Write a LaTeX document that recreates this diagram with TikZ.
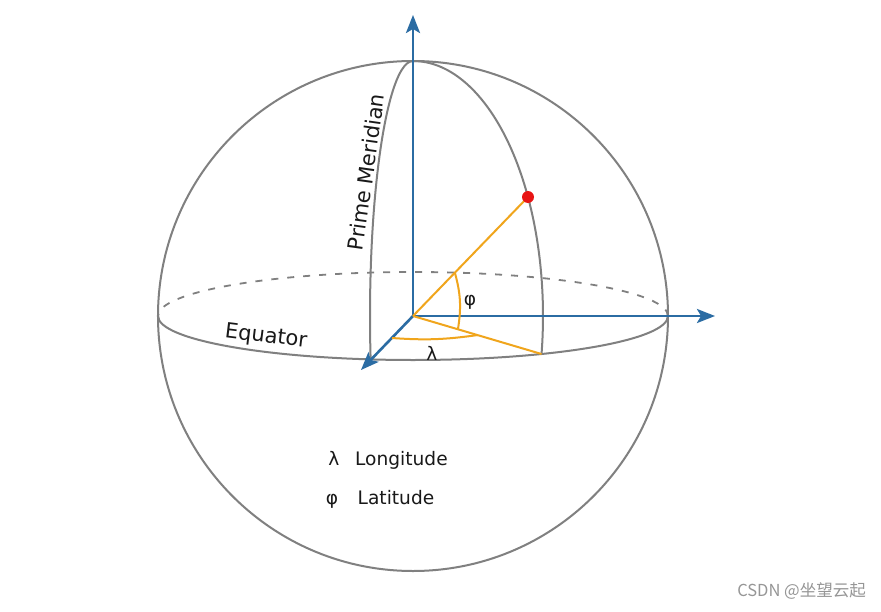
\documentclass[tikz,border=0pt]{standalone}
\usepackage{fontspec}
\setmainfont{DejaVu Sans}
\newfontfamily\cjkfont{Noto Sans CJK SC}
\usetikzlibrary{arrows.meta}
\definecolor{axisblue}{RGB}{43,108,163}
\definecolor{angorange}{RGB}{240,165,28}
\definecolor{spheregray}{RGB}{128,128,128}
\definecolor{dotred}{RGB}{232,20,20}
\definecolor{wmgray}{RGB}{150,150,150}
\begin{document}
\begin{tikzpicture}[x=1pt,y=1pt,
  sphereline/.style={draw=spheregray, line width=2pt},
  backline/.style={draw=spheregray, line width=1.8pt, dash pattern=on 7pt off 9pt},
  axisline/.style={draw=axisblue, line width=2.6pt, -{Stealth[length=18pt,width=14pt,inset=4pt]}},
  angline/.style={draw=angorange, line width=2pt},
  bigtxt/.style={font=\fontsize{21}{25}\selectfont, text=black!90, inner sep=0pt},
  legtxt/.style={font=\fontsize{18.6}{22}\selectfont, text=black!90, inner sep=0pt},
  wmtxt/.style={font=\cjkfont\fontsize{16.5}{18}\selectfont, text=wmgray, inner sep=0pt}]
\useasboundingbox (-413,-295) rectangle (468,316);
\fill[white] (-413,-295) rectangle (468,316);
% key points
\coordinate (O) at (0,0);
\coordinate (N) at (0,301);
\coordinate (Xe) at (302,0);
\coordinate (Ye) at (-52,-54);
\coordinate (P) at (115,119);
\coordinate (E) at (128.5,-38);
\coordinate (phiA) at (42,43);
\coordinate (phiB) at (45,-13);
\coordinate (lamA) at (-21,-22);
\coordinate (lamB) at (65,-19);
% sphere
\draw[sphereline] (O) circle[radius=255];
\draw[backline] (255,0) arc[start angle=0,end angle=180,x radius=255,y radius=44];
\draw[sphereline] (-255,0) arc[start angle=180,end angle=360,x radius=255,y radius=44];
\draw[sphereline] (0,255) arc[start angle=90,end angle=189.7,x radius=43,y radius=255];
\draw[sphereline] (0,255) arc[start angle=90,end angle=-8.57,x radius=130,y radius=255];
% axes
\draw[axisline] (O) -- (N);
\draw[axisline] (O) -- (Xe);
\draw[axisline] (O) -- (Ye);
% angles
\draw[angline] (O) -- (P);
\draw[angline] (O) -- (E);
\draw[angline] (phiA) to[bend left=12] (phiB);
\draw[angline] (lamA) to[bend right=6] (lamB);
\node[circle, fill=dotred, minimum size=12pt, inner sep=0pt] (dot) at (P) {};
% labels
\node[bigtxt, rotate=82] (pm) at (-47,144) {Prime Meridian};
\node[bigtxt, rotate=-7] (eq) at (-147,-21) {Equator};
\node[legtxt] (phi) at (57,14) {φ};
\node[legtxt] (lam) at (19,-37) {λ};
\node[legtxt, anchor=base] (lamleg) at (-79,-149) {λ};
\node[legtxt, anchor=base west] (lon) at (-58,-149) {Longitude};
\node[legtxt, anchor=base] (phileg) at (-81,-188) {φ};
\node[legtxt, anchor=base west] (lat) at (-55.5,-188) {Latitude};
\node[wmtxt, anchor=east] (wm) at (453,-275) {CSDN @坐望云起};
\end{tikzpicture}
\end{document}
